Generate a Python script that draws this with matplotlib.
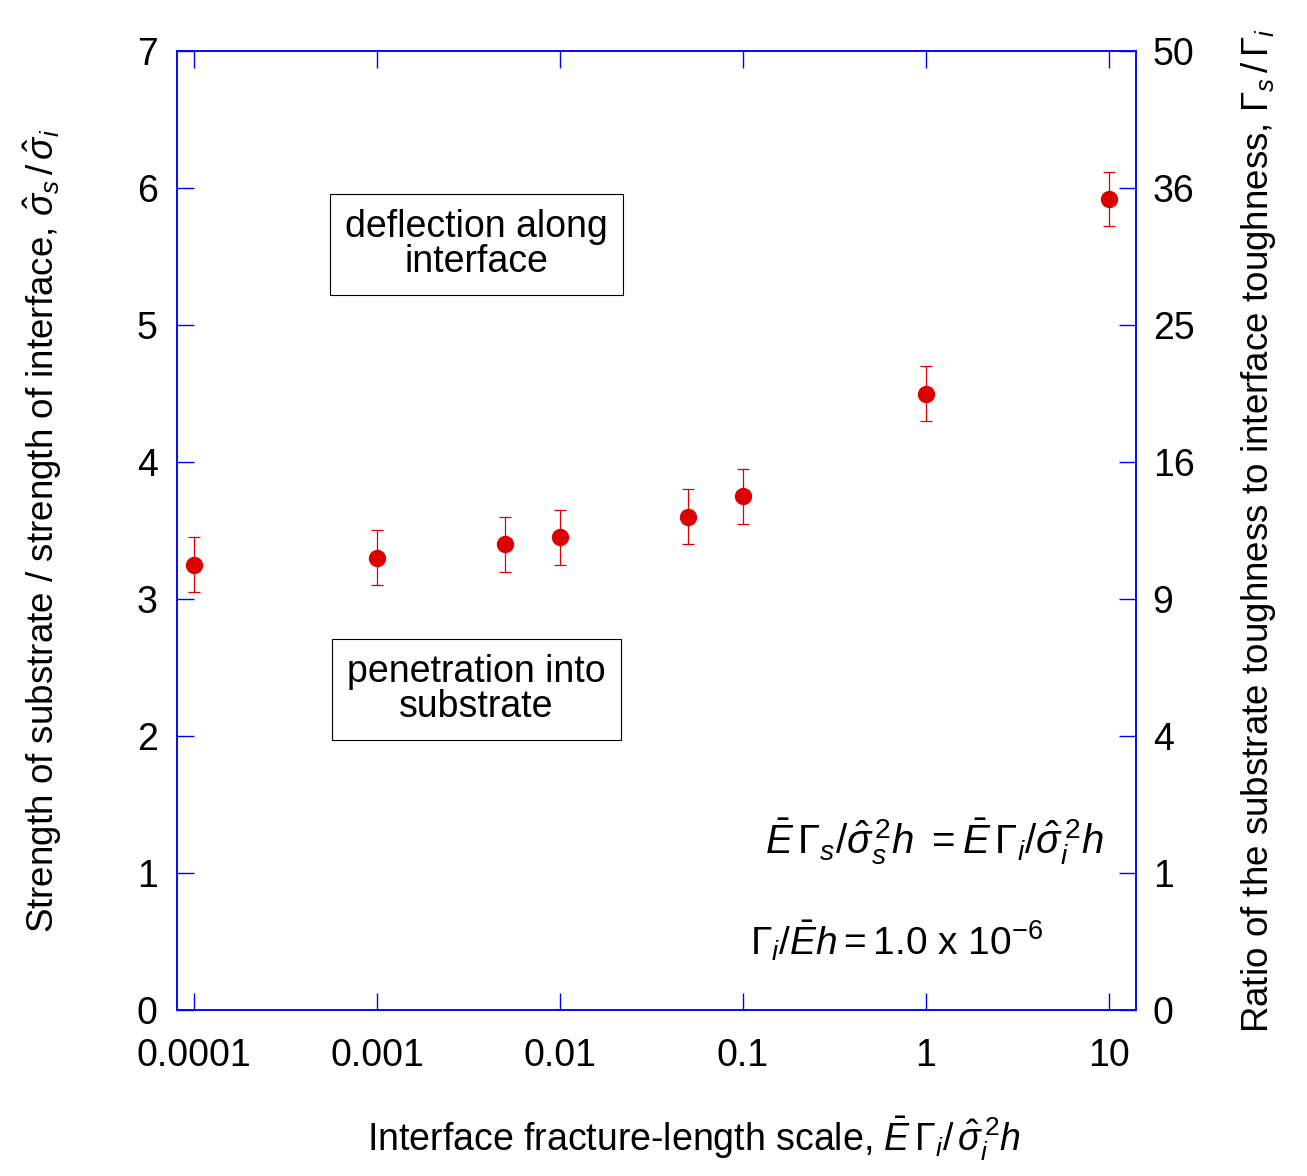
import numpy as np
import matplotlib.pyplot as plt

plt.rcParams['font.family'] = ['Liberation Sans', 'DejaVu Sans']
plt.rcParams['mathtext.fontset'] = 'custom'
plt.rcParams['mathtext.rm'] = 'Liberation Sans'
plt.rcParams['mathtext.it'] = 'Liberation Sans:italic'
plt.rcParams['mathtext.bf'] = 'Liberation Sans:bold'

# data
length_scale = [0.0001, 0.001, 0.005, 0.01, 0.05, 0.1, 1, 10]
strength_ratio = [3.25, 3.30, 3.40, 3.45, 3.60, 3.75, 4.50, 5.92]
strength_err = [0.2, 0.2, 0.2, 0.2, 0.2, 0.2, 0.2, 0.2]

x_ticks = [0.0001, 0.001, 0.01, 0.1, 1, 10]
x_ticklabels = ['0.0001', '0.001', '0.01', '0.1', '1', '10']
y_ticks = [0, 1, 2, 3, 4, 5, 6, 7]
right_ticklabels = ['0', '1', '4', '9', '16', '25', '36', '50']

fig = plt.figure(figsize=(13.07, 11.76), dpi=100)
ax = fig.add_axes([0.1354, 0.1412, 0.7338, 0.8154])

ax.errorbar(length_scale, strength_ratio, yerr=strength_err, fmt='o',
            color='#dd0000', ms=11.5, capsize=4.5, elinewidth=0.9,
            capthick=0.9, zorder=3)

ax.set_xscale('log')
ax.set_xlim(8.07e-5, 14.06)
ax.set_ylim(0, 7)
ax.set_xticks(x_ticks)
ax.set_xticklabels(x_ticklabels)
ax.minorticks_off()
ax.set_yticks(y_ticks)

for s in ax.spines.values():
    s.set_color('blue')
    s.set_linewidth(1.1)
ax.tick_params(direction='in', length=12, width=1, color='blue',
               labelsize=27, top=True, pad=14)
ax.tick_params(axis='x', pad=20)

ax2 = ax.twinx()
ax2.set_ylim(0, 7)
ax2.set_yticks(y_ticks)
ax2.set_yticklabels(right_ticklabels)
ax2.tick_params(direction='in', length=12, width=1, color='blue',
                labelsize=27, pad=12)
for s in ax2.spines.values():
    s.set_color('blue')
    s.set_linewidth(1.1)

ax.set_xlabel(r'Interface fracture-length scale, $\bar{E}\,\Gamma_i/\,\hat{\sigma}_i^{\,2}h$',
              fontsize=27)
ax.xaxis.set_label_coords(0.539, -0.109)
ax.set_ylabel(r'Strength of substrate / strength of interface, $\hat{\sigma}_s\,/\,\hat{\sigma}_i$',
              fontsize=26.5, labelpad=52)
ax2.set_ylabel(r'Ratio of the substrate toughness to interface toughness, $\Gamma_s\,/\,\Gamma_i$',
               fontsize=26.5, labelpad=32)

box = dict(boxstyle='square,pad=0.4', fc='white', ec='black', lw=0.8)
ax.text(0.312, 0.798, 'deflection along\ninterface', transform=ax.transAxes,
        ha='center', va='center', fontsize=27, linespacing=0.95, bbox=box)
ax.text(0.312, 0.334, 'penetration into\nsubstrate', transform=ax.transAxes,
        ha='center', va='center', fontsize=27, linespacing=0.95, bbox=box)

ax.text(0.79, 0.175,
        r'$\bar{E}\,\Gamma_s/\hat{\sigma}_s^{\,2}h\ =\bar{E}\,\Gamma_i/\hat{\sigma}_i^{\,2}h$',
        transform=ax.transAxes, ha='center', va='center', fontsize=29)
ax.text(0.598, 0.072, r'$\Gamma_i/\bar{E}h = \mathrm{1.0\ x\ 10^{-6}}$',
        transform=ax.transAxes, ha='left', va='center', fontsize=28)

fig.savefig('out.png', dpi=100)
